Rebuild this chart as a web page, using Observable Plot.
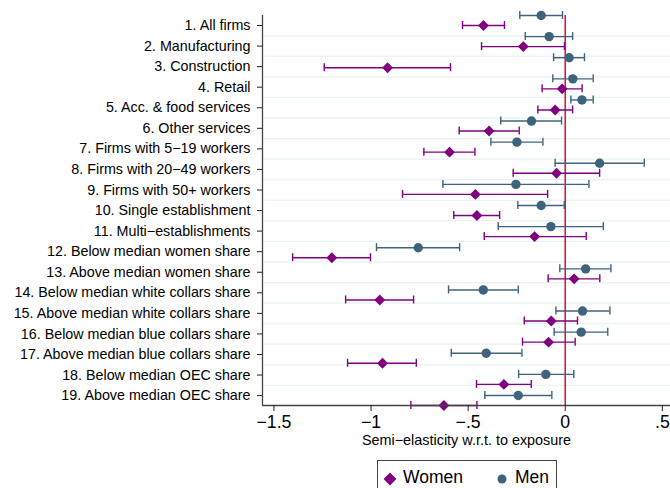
<!DOCTYPE html>
<html><head><meta charset="utf-8">
<script src="https://cdn.jsdelivr.net/npm/d3@7"></script>
<script src="https://cdn.jsdelivr.net/npm/@observablehq/plot@0.6"></script>
<style>
body{margin:0;background:#fff;font-family:"Liberation Sans",Arial,sans-serif;overflow:hidden;width:670px;height:488px;position:relative}
#legend{position:absolute;left:377px;top:460px;width:180px;height:40px;border:1px solid #444;box-sizing:border-box;font-size:17.5px;color:#000}
#legend span{position:absolute;top:6px;white-space:nowrap}
</style>
</head><body><div id="chart"></div>
<div id="legend">
  <svg width="20" height="20" style="position:absolute;left:2px;top:8px"><path d="M10,3.6 L16.4,10 L10,16.4 L3.6,10Z" fill="#800080"/></svg>
  <span style="left:25px">Women</span>
  <svg width="20" height="20" style="position:absolute;left:114px;top:8px"><circle cx="10" cy="10" r="4.5" fill="#3e647d"/></svg>
  <span style="left:137px">Men</span>
</div>
<script>
const categories = [
  "1. All firms", "2. Manufacturing", "3. Construction", "4. Retail",
  "5. Acc. & food services", "6. Other services", "7. Firms with 5\u221219 workers",
  "8. Firms with 20\u221249 workers", "9. Firms with 50+ workers", "10. Single establishment",
  "11. Multi\u2212establishments", "12. Below median women share", "13. Above median women share",
  "14. Below median white collars share", "15. Above median white collars share",
  "16. Below median blue collars share", "17. Above median blue collars share",
  "18. Below median OEC share", "19. Above median OEC share"
];
const womenCoef = [-0.421, -0.216, -0.915, -0.016, -0.052, -0.392, -0.596, -0.045, -0.463, -0.455, -0.158, -1.202, 0.046, -0.955, -0.072, -0.086, -0.941, -0.316, -0.625];
const womenLo   = [-0.529, -0.431, -1.241, -0.119, -0.141, -0.546, -0.728, -0.268, -0.838, -0.574, -0.417, -1.404, -0.088, -1.131, -0.211, -0.220, -1.121, -0.457, -0.795];
const womenHi   = [-0.313, -0.004, -0.591, 0.087, 0.038, -0.237, -0.465, 0.177, -0.091, -0.338, 0.108, -1.003, 0.178, -0.781, 0.063, 0.051, -0.767, -0.175, -0.455];
const menCoef   = [-0.124, -0.083, 0.020, 0.039, 0.086, -0.174, -0.249, 0.177, -0.254, -0.124, -0.074, -0.757, 0.105, -0.422, 0.089, 0.082, -0.407, -0.100, -0.242];
const menLo     = [-0.234, -0.206, -0.060, -0.064, 0.029, -0.332, -0.383, -0.052, -0.630, -0.244, -0.345, -0.972, -0.028, -0.601, -0.048, -0.057, -0.587, -0.240, -0.414];
const menHi     = [-0.014, 0.038, 0.099, 0.144, 0.144, -0.019, -0.115, 0.407, 0.122, -0.005, 0.196, -0.544, 0.235, -0.242, 0.230, 0.219, -0.223, 0.044, -0.069];
const xTicks = [-1.5, -1, -0.5, 0, 0.5];
const xTitle = "Semi\u2212elasticity w.r.t. to exposure";

// layout constants (row units)
const menOffset = -0.4737;   // men plotted half a row above women
const tickStep = 0.974;      // Stata's category ticks are spaced slightly tighter than markers
const capHalf = 0.19;

const women = categories.map((c, i) => ({c, i, y: i, est: womenCoef[i], lo: womenLo[i], hi: womenHi[i]}));
const men = categories.map((c, i) => ({c, i, y: i + menOffset, est: menCoef[i], lo: menLo[i], hi: menHi[i]}));
const yTicks = categories.map((c, i) => i * tickStep);
const grid = categories.slice(0, -1).map((c, i) => i * tickStep + tickStep / 2);

const xMin = -1.559, xMax = 0.542;
const W = "#800080", M = "#3e647d";
const fmt = d => d === 0 ? "0" : (d < 0 ? "\u2212" : "") + String(Math.abs(d)).replace(/^0/, "");

function bars(data, color) {
  return [
    Plot.ruleY(data, {y: "y", x1: "lo", x2: "hi", stroke: color, strokeWidth: 1.4}),
    Plot.ruleX(data, {x: "lo", y1: d => d.y - capHalf, y2: d => d.y + capHalf, stroke: color, strokeWidth: 1.4}),
    Plot.ruleX(data, {x: "hi", y1: d => d.y - capHalf, y2: d => d.y + capHalf, stroke: color, strokeWidth: 1.4})
  ];
}

const chart = Plot.plot({
  width: 670,
  height: 458,
  marginLeft: 262,
  marginRight: 0,
  marginTop: 15,
  marginBottom: 53,
  style: {fontFamily: "'Liberation Sans', Arial, sans-serif", background: "#fff", overflow: "visible"},
  x: {domain: [xMin, xMax]},
  y: {domain: [menOffset, 18], reverse: true},
  marks: [
    Plot.ruleY(grid, {stroke: "#eaf2f3", strokeWidth: 1.3}),
    Plot.ruleX([0], {stroke: "#cc1f45", strokeWidth: 1.6}),
    ...bars(men, M),
    ...bars(women, W),
    Plot.dot(men, {x: "est", y: "y", r: 4.7, fill: M, stroke: "none"}),
    Plot.dot(women, {x: "est", y: "y", r: 4.9, symbol: "diamond2", fill: W, stroke: "none"}),
    Plot.ruleX([xMin], {stroke: "#444", strokeWidth: 1.3}),
    Plot.ruleY([18], {stroke: "#444", strokeWidth: 1.3}),
    Plot.axisY({ticks: yTicks, tickFormat: d => categories[Math.round(d / tickStep)], tickSize: 5, tickPadding: 7, fontSize: 14.3, label: null, stroke: "#222", color: "#000"}),
    Plot.axisX({ticks: xTicks, tickFormat: fmt, tickSize: 6, tickPadding: 4, fontSize: 17.7, label: null, stroke: "#222", color: "#000"}),
    Plot.text([xTitle], {frameAnchor: "bottom", dy: 39, fontSize: 14.4, fill: "#000"})
  ]
});
document.getElementById("chart").appendChild(chart);
</script>
</body></html>
